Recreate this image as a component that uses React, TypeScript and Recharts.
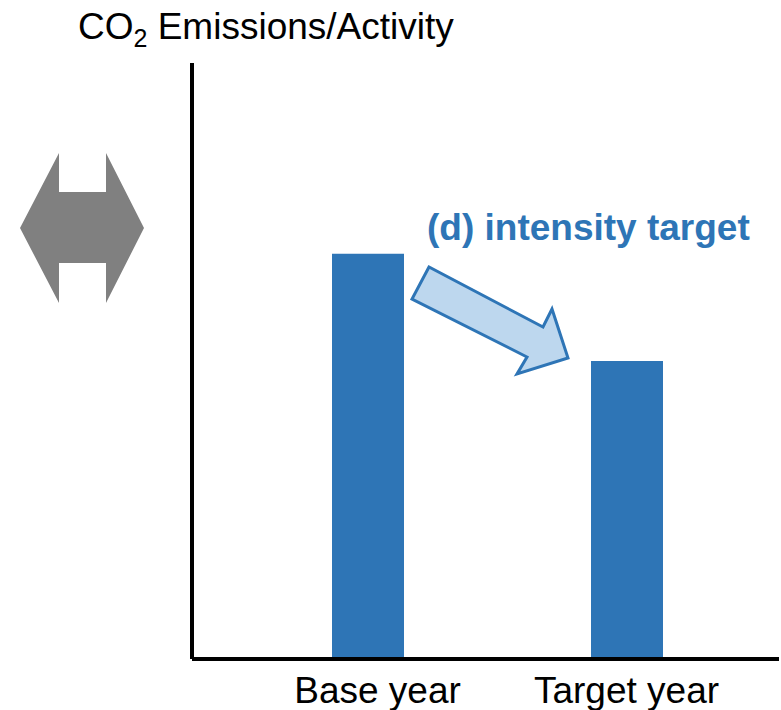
import React from 'react';
import { BarChart, Bar, XAxis, YAxis, Customized } from 'recharts';

const categories = ['Base year', 'Target year'];
const intensity = [68, 50];
const title = 'Emissions/Activity';
const annotation = '(d) intensity target';

const data = categories.map((name, i) => ({ name, value: intensity[i] }));

const BLUE = '#2E75B6';
const FONT = '"Liberation Sans", Arial, sans-serif';

// the first label sits a little right of its bar in the original
const labelShift: Record<string, number> = { 'Base year': 10 };

const CategoryTick = (props: any) => {
  const { x, y, payload } = props;
  const dx = labelShift[payload.value] || 0;
  return (
    <text x={x + dx} y={y} dy={44} textAnchor="middle" fontSize={37} fill="#000" fontFamily={FONT}>
      {payload.value}
    </text>
  );
};

const Decorations = () => (
  <g>
    <text x={78} y={39} fontSize={37} fill="#000" fontFamily={FONT}>
      CO
      <tspan fontSize={25} dy={8}>2</tspan>
      <tspan dy={-8}> {title}</tspan>
    </text>
    <polygon
      points="20,228 59,153 59,192 106,192 106,153 144,228 106,303 106,263 59,263 59,303"
      fill="#808080"
    />
    <text x={427} y={240} fontSize={37} fontWeight="bold" fill={BLUE} fontFamily={FONT}>
      {annotation}
    </text>
    <polygon
      points="429,267 412,299 527,357 517,374 568,358 552,309 543,327"
      fill="#BDD7EE"
      stroke={BLUE}
      strokeWidth={3}
      strokeLinejoin="miter"
    />
  </g>
);

const App = () => {
  return (
    <div style={{ position: 'absolute', left: 0, top: 0, fontFamily: FONT }}>
      <BarChart
        width={781}
        height={710}
        data={data}
        margin={{ top: 63, right: 2, bottom: 0, left: 182 }}
        barSize={72}
      >
        <XAxis
          dataKey="name"
          height={51}
          padding={{ left: 46, right: 23 }}
          tickLine={false}
          tickSize={0}
          tickMargin={0}
          axisLine={{ stroke: '#000', strokeWidth: 4 }}
          tick={<CategoryTick />}
          interval={0}
        />
        <YAxis
          width={10}
          domain={[0, 100]}
          tick={false}
          tickLine={false}
          axisLine={{ stroke: '#000', strokeWidth: 4 }}
        />
        <Bar dataKey="value" fill={BLUE} isAnimationActive={false} />
        <Customized component={<Decorations />} />
      </BarChart>
    </div>
  );
};

export default App;
